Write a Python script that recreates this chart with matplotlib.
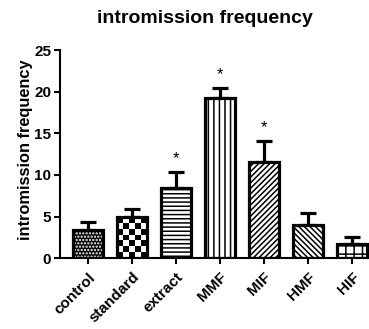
import numpy as np
import matplotlib
matplotlib.use("Agg")
import matplotlib.pyplot as plt

groups = ["control", "standard", "extract", "MMF", "MIF", "HMF", "HIF"]
means = [3.4, 4.9, 8.4, 19.2, 11.5, 4.0, 1.7]
sem = [0.9, 1.0, 2.0, 1.2, 2.6, 1.4, 0.8]
signif = [False, False, True, True, True, False, False]

plt.rcParams['font.family'] = ['Liberation Sans', 'DejaVu Sans']
plt.rcParams['font.weight'] = 'bold'
plt.rcParams['hatch.linewidth'] = 1.1

fig = plt.figure(figsize=(3.69, 3.29), dpi=100)
ax = fig.add_axes([0.163, 0.215, 0.837, 0.633])

x = np.arange(len(groups))
w = 0.67

# fill + pattern, then outline on top
styles = [
    dict(color='black', hatch=None),
    dict(color='white', hatch=None),
    dict(color='white', hatch='----'),
    dict(color='white', hatch='|||'),
    dict(color='white', hatch='//////'),
    dict(color='white', hatch='\\\\\\\\\\\\'),
    dict(color='white', hatch='++'),
]
for i in range(len(groups)):
    s = styles[i]
    ax.bar(x[i], means[i], w, color=s['color'], hatch=s['hatch'],
           edgecolor='black', linewidth=0, zorder=2)

# control: white dots on black
ax.bar(x[0], means[0], w, color='none', hatch='.....', edgecolor='white',
       linewidth=0, zorder=3)

# standard: checkerboard drawn as an image clipped to the bar
rect = ax.bar(x[1], means[1], w, color='none', linewidth=0, zorder=3)[0]
nx, ny = 5, 7
chk = (np.add.outer(np.arange(ny), np.arange(nx)) % 2).astype(float)
im = ax.imshow(chk, cmap='gray', extent=[x[1] - w / 2, x[1] + w / 2, 0, means[1]],
               aspect='auto', interpolation='nearest', zorder=2.5)
im.set_clip_path(rect)

ax.bar(x, means, w, fill=False, edgecolor='black', linewidth=2.3, zorder=4)
ax.errorbar(x, means, yerr=[np.zeros(len(sem)), sem], fmt='none', ecolor='black',
            elinewidth=2.3, capsize=6, capthick=2.3, zorder=1)

for i in range(len(groups)):
    if signif[i]:
        ax.text(x[i], means[i] + sem[i] + 0.7, "*", ha='center', va='bottom',
                fontsize=12, fontweight='normal')

ax.set_xlim(-0.63, 6.38)
ax.set_ylim(0, 25)
ax.set_yticks([0, 5, 10, 15, 20, 25])
ax.set_xticks(x)
ax.set_xticklabels(groups, rotation=45, ha='right', rotation_mode='anchor',
                   fontsize=11, fontweight='bold')
ax.tick_params(axis='y', labelsize=11, width=1.5, length=4.5, pad=2)
ax.tick_params(axis='x', width=1.5, length=4.5, pad=4)
for t in ax.get_yticklabels():
    t.set_fontweight('bold')
ax.spines['top'].set_visible(False)
ax.spines['right'].set_visible(False)
ax.spines['left'].set_linewidth(1.5)
ax.spines['bottom'].set_linewidth(1.5)
ax.set_ylabel("intromission frequency", fontsize=11.8, fontweight='bold')
ax.yaxis.set_label_coords(-0.087, 0.52)
fig.text(0.556, 0.945, "intromission frequency", ha='center', va='center',
         fontsize=14, fontweight='bold')

fig.savefig("out.png", dpi=100)
